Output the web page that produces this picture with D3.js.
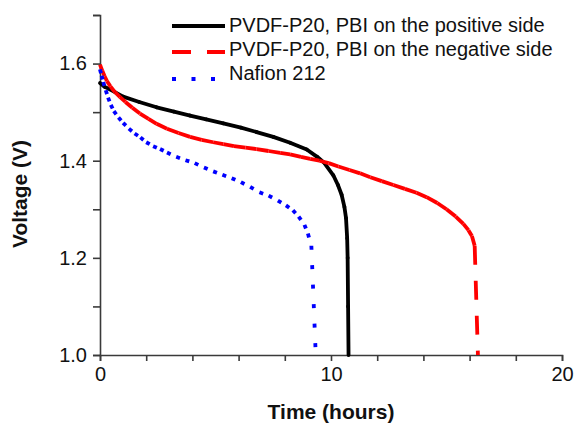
<!DOCTYPE html>
<html>
<head>
<meta charset="utf-8">
<script src="https://cdn.jsdelivr.net/npm/d3@7"></script>
<style>
  body { margin: 0; background: #fff; }
  text { font-family: "Liberation Sans", Arial, sans-serif; fill: #111; }
</style>
</head>
<body>
<div id="chart"></div>
<script>
// data: time in hours, voltage in V
var seriesNames = ["PVDF-P20, PBI on the positive side", "PVDF-P20, PBI on the negative side", "Nafion 212"];

var timePos = [0, 0.2, 0.43, 1.0, 1.7, 2.45, 3.2, 3.9, 4.6, 5.34, 6.1, 6.78, 7.5, 8.23, 8.95, 9.4, 9.7, 10.1, 10.3, 10.46, 10.58, 10.65, 10.7, 10.72, 10.74, 10.76];
var voltPos = [1.560, 1.552, 1.547, 1.532, 1.521, 1.510, 1.501, 1.493, 1.485, 1.477, 1.468, 1.459, 1.449, 1.437, 1.423, 1.408, 1.396, 1.370, 1.350, 1.330, 1.305, 1.282, 1.240, 1.200, 1.100, 1.000];

var timeNeg = [0, 0.1, 0.2, 0.3, 0.45, 0.65, 0.87, 1.1, 1.4, 1.73, 2.1, 2.45, 2.9, 3.4, 3.9, 4.4, 4.9, 5.34, 5.8, 6.3, 6.78, 7.3, 7.8, 8.23, 8.7, 9.1, 9.5, 9.9, 10.32, 10.8, 11.26, 11.7, 12.2, 12.7, 13.2, 13.7, 14.14, 14.6, 15.0, 15.4, 15.73, 15.95, 16.1, 16.22, 16.36];
var voltNeg = [1.598, 1.585, 1.574, 1.564, 1.553, 1.541, 1.531, 1.521, 1.509, 1.497, 1.486, 1.476, 1.466, 1.457, 1.449, 1.443, 1.438, 1.434, 1.430, 1.427, 1.424, 1.420, 1.416, 1.413, 1.408, 1.404, 1.400, 1.395, 1.388, 1.381, 1.374, 1.366, 1.358, 1.350, 1.342, 1.334, 1.325, 1.313, 1.300, 1.285, 1.270, 1.257, 1.245, 1.225, 1.000];

var timeNaf = [0, 0.07, 0.14, 0.25, 0.35, 0.47, 0.6, 0.8, 1.0, 1.25, 1.5, 1.75, 2.0, 2.3, 2.6, 2.9, 3.3, 3.7, 4.1, 4.5, 4.9, 5.3, 5.7, 6.1, 6.5, 6.9, 7.3, 7.7, 8.05, 8.35, 8.6, 8.85, 9.0, 9.15, 9.34];
var voltNaf = [1.588, 1.575, 1.562, 1.545, 1.530, 1.515, 1.502, 1.489, 1.478, 1.466, 1.456, 1.448, 1.438, 1.430, 1.424, 1.417, 1.408, 1.401, 1.395, 1.386, 1.378, 1.371, 1.364, 1.356, 1.346, 1.335, 1.328, 1.318, 1.308, 1.298, 1.285, 1.268, 1.250, 1.225, 1.000];

var xTicks = [0, 2, 4, 6, 8, 10, 12, 14, 16, 18, 20];
var xLabels = [0, 10, 20];
var yTicks = [1.0, 1.1, 1.2, 1.3, 1.4, 1.5, 1.6, 1.7];
var yLabels = [1.0, 1.2, 1.4, 1.6];

// drawing styles, one per series
var styles = [
  {color: "#000000", dash: null, legendDy: -6},
  {color: "#ff0000", dash: "19,16", legendDy: -4},
  {color: "#0000ff", dash: "4,15.5", legendDy: -1}
];

var W = 581, H = 424;
var svg = d3.select("#chart").append("svg")
    .attr("width", W)
    .attr("height", H);

var x = d3.scaleLinear().domain([0, 20]).range([100, 562]);
var y = d3.scaleLinear().domain([1.0, 1.7]).range([355, 15]);

// axes
var xAxis = svg.append("g")
    .attr("transform", "translate(0,355)")
    .call(d3.axisBottom(x)
      .tickValues(xTicks)
      .tickSizeOuter(0)
      .tickSize(6)
      .tickPadding(6)
      .tickFormat(function(d) { return xLabels.indexOf(d) >= 0 ? d : ""; }));

var yAxis = svg.append("g")
    .attr("transform", "translate(100,0)")
    .call(d3.axisLeft(y)
      .tickValues(yTicks)
      .tickSizeOuter(0)
      .tickSize(7)
      .tickPadding(6)
      .tickFormat(function(d) {
        return yLabels.some(function(v) { return Math.abs(v - d) < 1e-9; }) ? d3.format(".1f")(d) : "";
      }));

svg.selectAll(".domain, .tick line")
    .attr("stroke", "#3a3a3a")
    .attr("stroke-width", 1.6);
svg.selectAll(".tick text")
    .attr("font-size", 20)
    .attr("font-family", "Liberation Sans, Arial, sans-serif")
    .attr("fill", "#111");

// axis titles
svg.append("text")
    .attr("x", 331)
    .attr("y", 419)
    .attr("text-anchor", "middle")
    .attr("font-size", 21)
    .attr("font-weight", "bold")
    .text("Time (hours)");

svg.append("text")
    .attr("transform", "translate(27,194) rotate(-90)")
    .attr("text-anchor", "middle")
    .attr("font-size", 21)
    .attr("font-weight", "bold")
    .text("Voltage (V)");

// curves: each pair of points is its own segment, so the dash pattern restarts
var series = [
  d3.zip(timePos, voltPos),
  d3.zip(timeNeg, voltNeg),
  d3.zip(timeNaf, voltNaf)
];

series.forEach(function(pts, i) {
  svg.append("g")
    .selectAll("line")
    .data(d3.pairs(pts))
    .enter()
    .append("line")
      .attr("x1", function(d) { return x(d[0][0]); })
      .attr("y1", function(d) { return y(d[0][1]); })
      .attr("x2", function(d) { return x(d[1][0]); })
      .attr("y2", function(d) { return y(d[1][1]); })
      .attr("stroke", styles[i].color)
      .attr("stroke-width", 3.8)
      .attr("stroke-linecap", styles[i].dash ? "butt" : "round")
      .attr("stroke-dasharray", styles[i].dash);
});

// legend
var legend = svg.append("g");
var rowBase = [32, 56, 80];
seriesNames.forEach(function(name, i) {
  legend.append("line")
    .attr("x1", 172)
    .attr("x2", 225)
    .attr("y1", rowBase[i] + styles[i].legendDy)
    .attr("y2", rowBase[i] + styles[i].legendDy)
    .attr("stroke", styles[i].color)
    .attr("stroke-width", 3.8)
    .attr("stroke-dasharray", styles[i].dash);
  legend.append("text")
    .attr("x", 229)
    .attr("y", rowBase[i])
    .attr("font-size", 20)
    .text(name);
});
</script>
</body>
</html>
